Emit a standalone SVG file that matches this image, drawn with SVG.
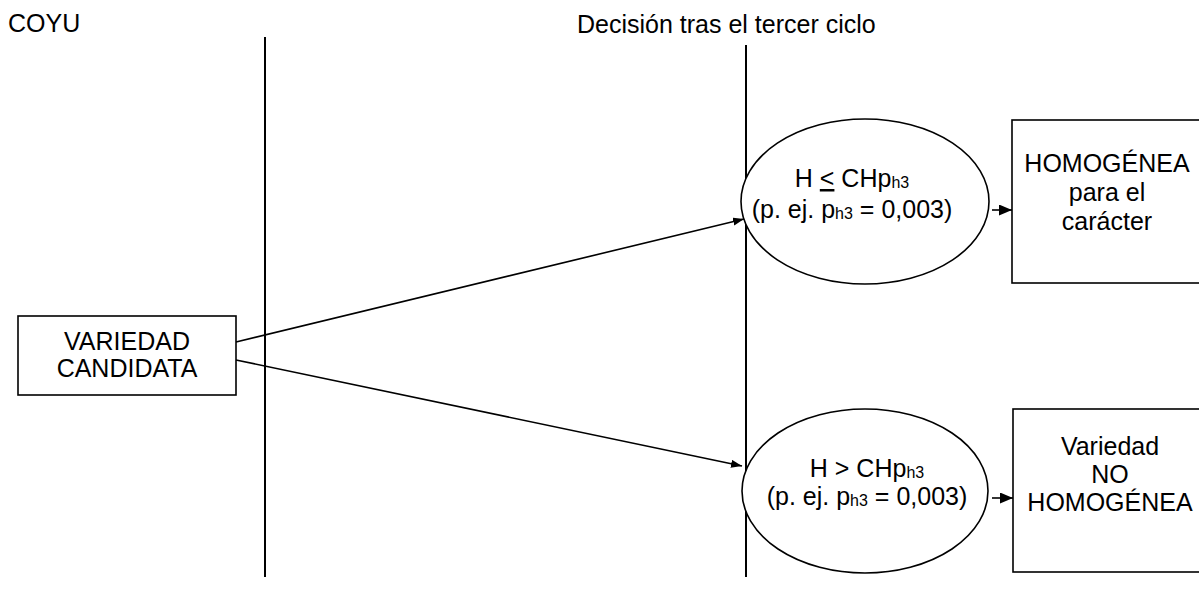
<svg xmlns="http://www.w3.org/2000/svg" width="1199" height="599" viewBox="0 0 1199 599">
<style>
  text { font-family: "Liberation Sans", Arial, sans-serif; font-size: 25px; fill: #000; }
  .mid { text-anchor: middle; }
  .sub { font-size: 16px; }
  .shape { fill: #fff; stroke: #000; stroke-width: 1.6; }
  .rule { stroke: #000; stroke-width: 2; fill: none; }
  .conn { stroke: #000; stroke-width: 1.6; fill: none; marker-end: url(#arrow); }
  .conn.short { marker-end: url(#arrow-big); }
</style>
<defs>
  <marker id="arrow" markerUnits="userSpaceOnUse" markerWidth="12" markerHeight="9" refX="11" refY="4" orient="auto">
    <path d="M0,0 L11,4 L0,8 z" fill="#000"/>
  </marker>
  <marker id="arrow-big" markerUnits="userSpaceOnUse" markerWidth="14" markerHeight="12" refX="13" refY="5.5" orient="auto">
    <path d="M0,0 L13,5.5 L0,11 z" fill="#000"/>
  </marker>
</defs>
<rect width="1199" height="599" fill="#fff"/>
<g id="headers">
  <text x="8" y="32">COYU</text>
  <text x="577" y="33">Decisión tras el tercer ciclo</text>
</g>
<g id="dividers">
  <line class="rule" x1="265" y1="37" x2="265" y2="577"/>
  <line class="rule" x1="746" y1="45" x2="746" y2="577"/>
</g>
<g id="connectors">
  <line class="conn" x1="236" y1="342" x2="744" y2="219"/>
  <line class="conn" x1="236" y1="360" x2="742" y2="466"/>
  <line class="conn short" x1="992" y1="210" x2="1012" y2="210"/>
  <line class="conn short" x1="992" y1="498" x2="1013" y2="498"/>
</g>
<g id="candidate">
  <rect class="shape" x="18" y="316" width="218" height="79"/>
  <text class="mid" x="127" y="350">VARIEDAD</text>
  <text class="mid" x="127" y="377">CANDIDATA</text>
</g>
<g id="cond-le">
  <ellipse class="shape" cx="865" cy="201.5" rx="124" ry="82.5"/>
  <text class="mid" x="852" y="187">H <tspan text-decoration="underline">&lt;</tspan> CHp<tspan class="sub" dy="1">h3</tspan></text>
  <text class="mid" x="852" y="218">(p. ej. p<tspan class="sub" dy="1">h3</tspan><tspan dy="-1"> = 0,003)</tspan></text>
</g>
<g id="cond-gt">
  <ellipse class="shape" cx="865" cy="491" rx="123" ry="82"/>
  <text class="mid" x="867" y="477">H &gt; CHp<tspan class="sub" dy="1">h3</tspan></text>
  <text class="mid" x="867" y="505">(p. ej. p<tspan class="sub" dy="1">h3</tspan><tspan dy="-1"> = 0,003)</tspan></text>
</g>
<g id="result-homogenea">
  <rect class="shape" x="1012" y="120" width="200" height="163"/>
  <text class="mid" x="1107" y="172">HOMOGÉNEA</text>
  <text class="mid" x="1107" y="201">para el</text>
  <text class="mid" x="1107" y="230">carácter</text>
</g>
<g id="result-no-homogenea">
  <rect class="shape" x="1013" y="409" width="200" height="163"/>
  <text class="mid" x="1110" y="455">Variedad</text>
  <text class="mid" x="1110" y="483">NO</text>
  <text class="mid" x="1110" y="511">HOMOGÉNEA</text>
</g>
</svg>
